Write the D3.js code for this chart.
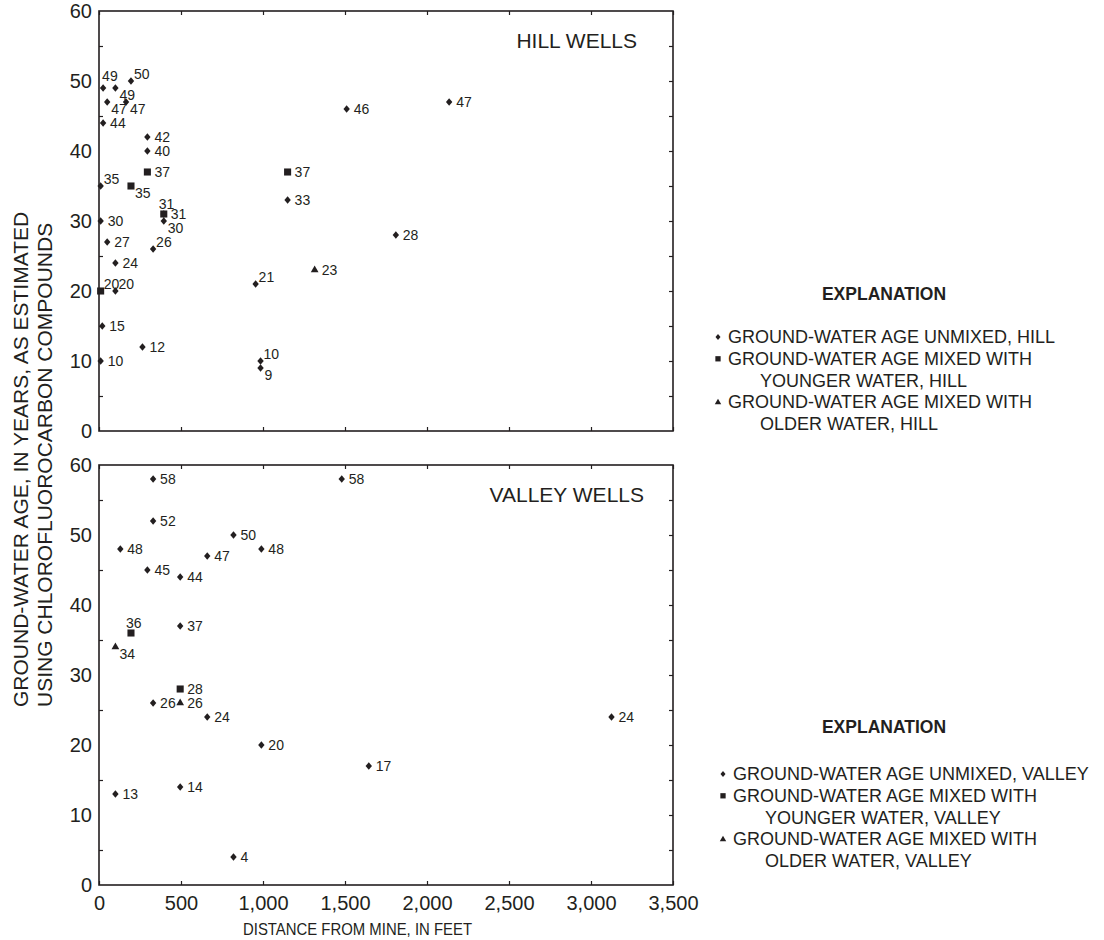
<!DOCTYPE html>
<html lang="en">
<head>
<meta charset="utf-8">
<script src="https://d3js.org/d3.v7.min.js"></script>
<style>
  body { margin: 0; background: #fff; }
  svg text { font-family: "Liberation Sans", Arial, sans-serif; fill: #231f20; }
</style>
</head>
<body>
<svg id="chart"></svg>
<script>
// axis ticks
const xTicks = [0, 500, 1000, 1500, 2000, 2500, 3000, 3500];
const yTicks = [0, 10, 20, 30, 40, 50, 60];

// hill wells: distance from mine (ft) and age (yr)
const hillUnmixedDist = [25, 100, 195, 50, 165, 25, 295, 295, 10, 395, 395, 10, 50, 330, 100, 100, 955, 20, 265, 10, 985, 985, 1150, 1510, 2135, 1810];
const hillUnmixedAge  = [49, 49, 50, 47, 47, 44, 42, 40, 35, 31, 30, 30, 27, 26, 24, 20, 21, 15, 12, 10, 10, 9, 33, 46, 47, 28];
const hillYoungerDist = [295, 195, 395, 10, 1150];
const hillYoungerAge  = [37, 35, 31, 20, 37];
const hillOlderDist = [1315];
const hillOlderAge  = [23];

// valley wells
const valleyUnmixedDist = [330, 1480, 330, 130, 820, 990, 295, 660, 495, 495, 330, 660, 990, 1645, 3125, 100, 495, 820];
const valleyUnmixedAge  = [58, 58, 52, 48, 50, 48, 45, 47, 44, 37, 26, 24, 20, 17, 24, 13, 14, 4];
const valleyYoungerDist = [195, 495];
const valleyYoungerAge  = [36, 28];
const valleyOlderDist = [100, 495];
const valleyOlderAge  = [34, 26];

// where each label sits relative to its marker
const hillUnmixedLbl = ["uu", "dr", "ur", "dr", "dr", "r", "r", "r", "ur", "r", "dr", "r", "r", "ur", "r", "ur", "ur", "r", "r", "r", "ur", "dr", "r", "r", "r", "r"];
const hillYoungerLbl = ["r", "dr", "u", "ur", "r"];
const hillOlderLbl = ["r"];
const valleyUnmixedLbl = ["r", "r", "r", "r", "r", "r", "r", "r", "r", "r", "r", "r", "r", "r", "r", "r", "r", "r"];
const valleyYoungerLbl = ["u", "r"];
const valleyOlderLbl = ["dr", "r"];

const legendHill = [["GROUND-WATER AGE UNMIXED, HILL"], ["GROUND-WATER AGE MIXED WITH", "YOUNGER WATER, HILL"], ["GROUND-WATER AGE MIXED WITH", "OLDER WATER, HILL"]];
const legendValley = [["GROUND-WATER AGE UNMIXED, VALLEY"], ["GROUND-WATER AGE MIXED WITH", "YOUNGER WATER, VALLEY"], ["GROUND-WATER AGE MIXED WITH", "OLDER WATER, VALLEY"]];

const width = 1104, height = 940;
const ink = "#231f20";

const svg = d3.select("#chart").attr("width", width).attr("height", height);
svg.append("rect").attr("width", width).attr("height", height).attr("fill", "#fff");

const x = d3.scaleLinear().domain([0, 3500]).range([99, 673]);
const yHill = d3.scaleLinear().domain([0, 60]).range([431, 11]);
const yValley = d3.scaleLinear().domain([0, 60]).range([885, 465]);

const offsets = {
    r: [7, 5], ur: [3, -2], uu: [-1, -7], dr: [4, 12], u: [-5, -5]
};

const diamondPath = "M0,-3.8L3.2,0L0,3.8L-3.2,0Z";
const squarePath = d3.symbol(d3.symbolSquare, 50)();
const trianglePath = d3.symbol(d3.symbolTriangle, 26)();

function zip(dist, age, lbl) {
    return dist.map((d, i) => ({ dist: d, age: age[i], pos: lbl[i] }));
}

function drawPanel(y, title, titleX, titleY, series, withXLabels) {
    const g = svg.append("g");

    // inward ticks on all four sides
    g.append("g").attr("transform", `translate(0,${y(0)})`)
        .call(d3.axisBottom(x).tickValues(xTicks).tickSize(-4).tickFormat(""))
        .call(a => a.select(".domain").remove());
    g.append("g").attr("transform", `translate(0,${y(60)})`)
        .call(d3.axisTop(x).tickValues(xTicks).tickSize(-4).tickFormat(""))
        .call(a => a.select(".domain").remove());
    g.append("g").attr("transform", `translate(${x(3500)},0)`)
        .call(d3.axisRight(y).tickValues(d3.range(5, 60, 5)).tickSize(-4).tickFormat(""))
        .call(a => a.select(".domain").remove());
    g.append("g").attr("transform", `translate(${x(0)},0)`)
        .call(d3.axisLeft(y).tickValues(d3.range(5, 60, 10)).tickSize(-4).tickFormat(""))
        .call(a => a.select(".domain").remove());
    g.selectAll(".tick line").attr("stroke", ink).attr("stroke-width", 1.2);

    // y labels
    g.append("g").attr("transform", `translate(${x(0)},0)`)
        .call(d3.axisLeft(y).tickValues(yTicks).tickSize(0).tickPadding(7))
        .call(a => a.select(".domain").remove())
        .attr("font-size", 20).attr("font-family", null);

    if (withXLabels) {
        g.append("g").attr("transform", `translate(0,${y(0)})`)
            .call(d3.axisBottom(x).tickValues(xTicks).tickSize(0).tickPadding(11).tickFormat(d3.format(",")))
            .call(a => a.select(".domain").remove())
            .attr("font-size", 20).attr("font-family", null);
    }

    g.append("rect")
        .attr("x", x(0)).attr("y", y(60))
        .attr("width", x(3500) - x(0)).attr("height", y(0) - y(60))
        .attr("fill", "none").attr("stroke", ink).attr("stroke-width", 1.6);

    g.append("text").attr("x", titleX).attr("y", titleY)
        .attr("text-anchor", "end").attr("font-size", 21).text(title);

    series.forEach(s => {
        g.append("g").selectAll("path").data(s.pts).join("path")
            .attr("d", s.shape)
            .attr("fill", ink)
            .attr("transform", d => `translate(${x(d.dist)},${y(d.age)})`);
    });
    series.forEach(s => {
        g.append("g").selectAll("text").data(s.pts).join("text")
            .attr("x", d => x(d.dist) + offsets[d.pos][0])
            .attr("y", d => y(d.age) + offsets[d.pos][1])
            .attr("font-size", 14)
            .text(d => d.age);
    });
}

drawPanel(yHill, "HILL WELLS", 637, 48, [
    { shape: diamondPath, pts: zip(hillUnmixedDist, hillUnmixedAge, hillUnmixedLbl) },
    { shape: squarePath, pts: zip(hillYoungerDist, hillYoungerAge, hillYoungerLbl) },
    { shape: trianglePath, pts: zip(hillOlderDist, hillOlderAge, hillOlderLbl) }
], false);

drawPanel(yValley, "VALLEY WELLS", 644, 502, [
    { shape: diamondPath, pts: zip(valleyUnmixedDist, valleyUnmixedAge, valleyUnmixedLbl) },
    { shape: squarePath, pts: zip(valleyYoungerDist, valleyYoungerAge, valleyYoungerLbl) },
    { shape: trianglePath, pts: zip(valleyOlderDist, valleyOlderAge, valleyOlderLbl) }
], true);

// axis titles
svg.append("text").attr("transform", "translate(28,707) rotate(-90)")
    .attr("font-size", 21).text("GROUND-WATER AGE, IN YEARS, AS ESTIMATED");
svg.append("text").attr("transform", "translate(52,707) rotate(-90)")
    .attr("font-size", 21).text("USING CHLOROFLUOROCARBON COMPOUNDS");
svg.append("text").attr("x", 243).attr("y", 935)
    .attr("font-size", 17).attr("textLength", 229).attr("lengthAdjust", "spacingAndGlyphs")
    .text("DISTANCE FROM MINE, IN FEET");

// legends
const legendShapes = [
    "M0,-3L2.5,0L0,3L-2.5,0Z",
    d3.symbol(d3.symbolSquare, 28)(),
    d3.symbol(d3.symbolTriangle, 18)()
];

function drawLegend(items, headY, firstY, markX, textX) {
    const lg = svg.append("g");
    lg.append("text").attr("x", 884).attr("y", headY)
        .attr("text-anchor", "middle").attr("font-size", 17.5).attr("font-weight", "bold")
        .text("EXPLANATION");
    let row = 0;
    items.forEach((lines, i) => {
        const yy = firstY + row * 21.8;
        lg.append("path").attr("d", legendShapes[i]).attr("fill", ink)
            .attr("transform", `translate(${markX},${yy - 6})`);
        lines.forEach((t, j) => {
            lg.append("text")
                .attr("x", j === 0 ? textX : textX + 32)
                .attr("y", firstY + (row + j) * 21.8)
                .attr("font-size", 18).text(t);
        });
        row += lines.length;
    });
}

drawLegend(legendHill, 300, 343, 718, 728);
drawLegend(legendValley, 733, 780, 723, 733);
</script>
</body>
</html>
